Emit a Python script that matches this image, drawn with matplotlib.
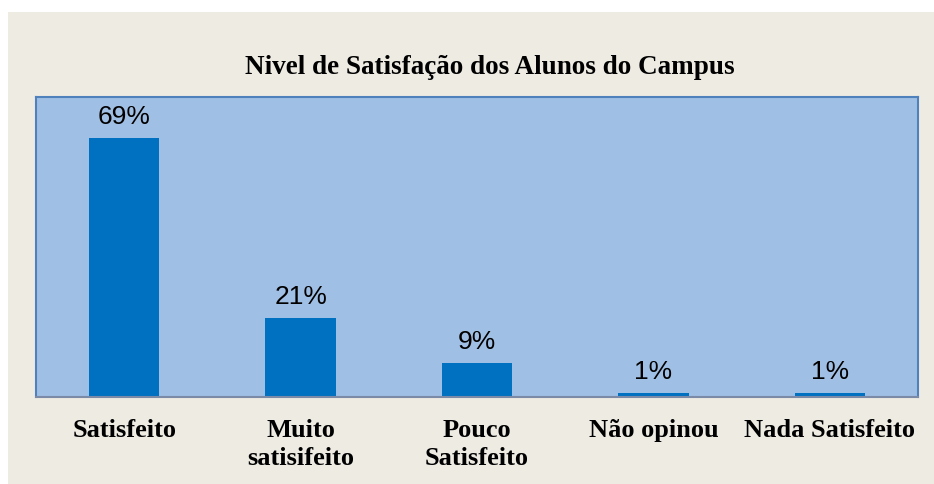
import numpy as np
import matplotlib.pyplot as plt
from matplotlib.patches import Rectangle

categories = ["Satisfeito", "Muito\nsatisifeito", "Pouco\nSatisfeito", "Não opinou", "Nada Satisfeito"]
values = [69, 21, 9, 1, 1]
title = "Nivel de Satisfação dos Alunos do Campus"

W, H = 934, 484
fig = plt.figure(figsize=(W / 100, H / 100), dpi=100)
fig.patch.set_facecolor("white")
# beige chart area
fig.add_artist(Rectangle((8 / W, 0), 1 - 8 / W, (H - 12) / H, transform=fig.transFigure,
                         facecolor="#eeebe3", edgecolor="none", zorder=0))

ax = fig.add_axes([36 / W, (H - 397) / H, (918 - 36) / W, (397 - 97) / H])
ax.set_facecolor("#a0bfe4")
x = np.arange(len(categories))
bars = ax.bar(x, values, width=0.4, color="#0070c0", zorder=2)
ax.set_xlim(-0.5, len(categories) - 0.5)
ax.set_ylim(0, 80)

for xi, v in zip(x, values):
    ax.text(xi, v + 2.4, f"{v}%", ha="center", va="bottom",
            fontsize=19, family="Liberation Sans", color="black")

ax.set_xticks(x)
ax.set_xticklabels(categories, fontsize=19, fontweight="bold", family="Liberation Serif",
                   linespacing=1.25, va="top")
ax.tick_params(axis="x", length=0, pad=16)
ax.set_yticks([])
for side in ["top", "left", "right"]:
    ax.spines[side].set_color("#4f81bd")
    ax.spines[side].set_linewidth(1.5)
ax.spines["bottom"].set_color("#7b8aa6")
ax.spines["bottom"].set_linewidth(1.5)

fig.text(490 / W, 1 - 68 / H, title, ha="center", va="center",
         fontsize=19.5, fontweight="bold", family="Liberation Serif")

fig.savefig("out.png", dpi=100, facecolor=fig.get_facecolor())
